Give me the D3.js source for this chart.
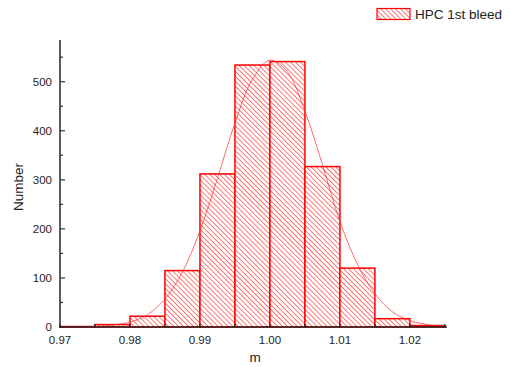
<!DOCTYPE html>
<html>
<head>
<meta charset="utf-8">
<script src="https://cdn.jsdelivr.net/npm/d3@7"></script>
<style>
  body { margin: 0; background: #fff; }
  text { font-family: "Liberation Sans", Arial, sans-serif; fill: #222; }
</style>
</head>
<body>
<svg id="chart" width="510" height="367"></svg>
<script>
// histogram bins (left edge) and counts
const binStarts = [0.970, 0.975, 0.980, 0.985, 0.990, 0.995, 1.000, 1.005, 1.010, 1.015, 1.020];
const counts = [1, 5, 22, 115, 312, 534, 541, 327, 120, 17, 3];
const binWidth = 0.005;

// fitted curve
const fitX = [0.970, 0.975, 0.980, 0.9825, 0.985, 0.9875, 0.990, 0.9925, 0.995, 0.9975, 1.000,
  1.0025, 1.005, 1.0075, 1.010, 1.0125, 1.015, 1.0175, 1.020, 1.0225, 1.025];
const fitY = [0, 1, 10, 25, 57, 112, 196, 303, 416, 505, 544,
  520, 440, 331, 215, 128, 68, 31, 13, 5, 1];

const xTicks = [0.97, 0.98, 0.99, 1.00, 1.01, 1.02];
const yTicks = [0, 100, 200, 300, 400, 500];

const red = "#ff0000";
const svg = d3.select("#chart");

const x = d3.scaleLinear().domain([0.97, 1.0253]).range([60, 447]);
const y = d3.scaleLinear().domain([0, 585]).range([327, 40]);

// hatch pattern
const defs = svg.append("defs");
const pat = defs.append("pattern")
  .attr("id", "hatch")
  .attr("patternUnits", "userSpaceOnUse")
  .attr("width", 3.5)
  .attr("height", 3.5)
  .attr("patternTransform", "rotate(-45)");
pat.append("rect").attr("width", 3.5).attr("height", 3.5).attr("fill", "#fff");
pat.append("line")
  .attr("x1", 0).attr("y1", 0).attr("x2", 0).attr("y2", 3.5)
  .attr("stroke", "#ff3030").attr("stroke-width", 1.3);

const bins = binStarts.map((s, i) => ({ x0: s, x1: s + binWidth, n: counts[i] }));

svg.append("g")
  .selectAll("rect")
  .data(bins)
  .enter()
  .append("rect")
  .attr("x", (d) => x(d.x0))
  .attr("y", (d) => y(d.n))
  .attr("width", (d) => x(d.x1) - x(d.x0))
  .attr("height", (d) => y(0) - y(d.n))
  .attr("fill", "url(#hatch)")
  .attr("stroke", red)
  .attr("stroke-width", 1.5);

// fit line
const line = d3.line()
  .x((d) => x(d[0]))
  .y((d) => y(d[1]))
  .curve(d3.curveCatmullRom);

svg.append("path")
  .datum(fitX.map((v, i) => [v, fitY[i]]))
  .attr("d", line)
  .attr("fill", "none")
  .attr("stroke", "#ff3030")
  .attr("stroke-opacity", 0.8)
  .attr("stroke-width", 0.9);

// y axis
const yAxis = svg.append("g").attr("transform", "translate(60,0)");
yAxis.append("line")
  .attr("x1", 0).attr("x2", 0).attr("y1", 40).attr("y2", 327.5)
  .attr("stroke", "#333").attr("stroke-width", 1.6);
yAxis.selectAll(".minor")
  .data(d3.range(50, 585, 100))
  .enter()
  .append("line")
  .attr("x1", 0).attr("x2", 3)
  .attr("y1", (d) => y(d)).attr("y2", (d) => y(d))
  .attr("stroke", "#333").attr("stroke-width", 1.2);
yAxis.selectAll(".major")
  .data(yTicks)
  .enter()
  .append("line")
  .attr("x1", 0).attr("x2", 5)
  .attr("y1", (d) => y(d)).attr("y2", (d) => y(d))
  .attr("stroke", "#333").attr("stroke-width", 1.2);
yAxis.selectAll("text")
  .data(yTicks)
  .enter()
  .append("text")
  .attr("x", -8)
  .attr("y", (d) => y(d) + 4)
  .attr("text-anchor", "end")
  .attr("font-size", 11.5)
  .text((d) => d);

// x axis
const xAxis = svg.append("g").attr("transform", "translate(0,327)");
xAxis.append("line")
  .attr("x1", 59).attr("x2", 447).attr("y1", 0).attr("y2", 0)
  .attr("stroke", "#222").attr("stroke-width", 1.6);
xAxis.selectAll(".tick")
  .data(binStarts.concat([1.025]))
  .enter()
  .append("line")
  .attr("x1", (d) => x(d)).attr("x2", (d) => x(d))
  .attr("y1", 0).attr("y2", -3)
  .attr("stroke", "#222").attr("stroke-width", 1.2);
xAxis.selectAll("text")
  .data(xTicks)
  .enter()
  .append("text")
  .attr("x", (d) => x(d))
  .attr("y", 17)
  .attr("text-anchor", "middle")
  .attr("font-size", 11.5)
  .text((d) => d3.format(".2f")(d));

// axis titles
svg.append("text")
  .attr("x", 255).attr("y", 362)
  .attr("text-anchor", "middle")
  .attr("font-size", 13.5)
  .text("m");
svg.append("text")
  .attr("transform", "translate(23,187) rotate(-90)")
  .attr("text-anchor", "middle")
  .attr("font-size", 13.5)
  .text("Number");

// legend
svg.append("rect")
  .attr("x", 377).attr("y", 8.5)
  .attr("width", 33).attr("height", 11)
  .attr("fill", "url(#hatch)")
  .attr("stroke", red).attr("stroke-width", 1.2);
svg.append("text")
  .attr("x", 415).attr("y", 19)
  .attr("font-size", 13.5)
  .text("HPC 1st bleed");
</script>
</body>
</html>
